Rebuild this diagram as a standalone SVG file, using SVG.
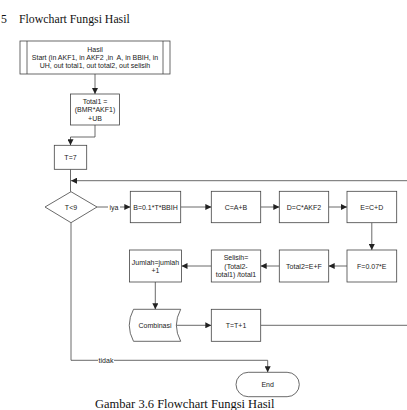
<svg xmlns="http://www.w3.org/2000/svg" width="407" height="410" viewBox="0 0 407 410">
<defs>
<marker id="ah" viewBox="0 0 10 10" refX="10" refY="5" markerWidth="6" markerHeight="6" markerUnits="userSpaceOnUse" orient="auto"><path d="M0,0 L10,5 L0,10 z" fill="#222"/></marker>
<style>
.n{fill:#fff;stroke:#444;stroke-width:0.8}
.t{font-family:"Liberation Sans",Arial,sans-serif;font-size:7px;fill:#222;text-anchor:middle;dominant-baseline:central}
.c{fill:none;stroke:#444;stroke-width:0.8}
.a{marker-end:url(#ah)}
.h{font-family:"Liberation Serif","Times New Roman",serif;font-size:12.5px;fill:#111}
</style>
</defs>
<rect width="407" height="410" fill="#fff"/>
<text class="h" x="1" y="23" style="font-size:11.8px">5</text>
<text class="h" x="19" y="23" style="font-size:11.8px">Flowchart Fungsi Hasil</text>
<g id="connectors">
<path class="c a" d="M95,74 V94"/>
<path class="c a" d="M95,125 V137 H70.5 V145.3"/>
<path class="c" d="M70.5,169.3 V191.7"/>
<path class="c a" d="M407,180.7 H71"/>
<path class="c" d="M97,207 H108"/>
<path class="c a" d="M120,207 H130.3"/>
<path class="c a" d="M180.7,207 H211.3"/>
<path class="c a" d="M260.7,207 H279.3"/>
<path class="c a" d="M328.7,207 H347"/>
<path class="c a" d="M371.8,222.7 V250"/>
<path class="c a" d="M347,266 H328.7"/>
<path class="c a" d="M279.3,266 H260.7"/>
<path class="c a" d="M211.3,266 H181.5"/>
<path class="c a" d="M155.3,282 V309.3"/>
<path class="c a" d="M176,325.3 H211.3"/>
<path class="c" d="M260.7,325.3 H407"/>
<path class="c" d="M71,222.7 V360.3 H98"/>
<path class="c a" d="M114,360.3 H267.7 V372.3"/>
<text class="t" x="114" y="207">iya</text>
<text class="t" x="106" y="360.3">tidak</text>
</g>
<g id="hasil">
<rect class="n" x="20" y="41" width="150" height="33"/>
<path class="c" d="M27,41 V74 M163,41 V74"/>
<text class="t" x="95" y="49.5">Hasil</text>
<text class="t" x="95" y="57.5" xml:space="preserve">Start (in AKF1, in AKF2 ,in  A, in BBIH, in</text>
<text class="t" x="95" y="65.5">UH, out total1, out total2, out selisih</text>
</g>
<g id="total1">
<rect class="n" x="70.5" y="94" width="49" height="31"/>
<text class="t" x="95" y="101">Total1 =</text>
<text class="t" x="95" y="109.5">(BMR*AKF1)</text>
<text class="t" x="95" y="118">+UB</text>
</g>
<g id="t7">
<rect class="n" x="54.3" y="145.3" width="32.4" height="24"/>
<text class="t" x="70.5" y="157.3">T=7</text>
</g>
<g id="dec">
<path class="n" d="M45,207 L71,191.7 L97,207 L71,222.7 Z"/>
<text class="t" x="71" y="207">T&lt;9</text>
</g>
<g id="b">
<rect class="n" x="130.3" y="191.3" width="50.4" height="31.4"/>
<text class="t" x="155.5" y="207">B=0.1*T*BBIH</text>
</g>
<g id="c">
<rect class="n" x="211.3" y="191.3" width="49.4" height="31.4"/>
<text class="t" x="236" y="207">C=A+B</text>
</g>
<g id="d">
<rect class="n" x="279.3" y="191.3" width="49.4" height="31.4"/>
<text class="t" x="304" y="207">D=C*AKF2</text>
</g>
<g id="e">
<rect class="n" x="347" y="191.3" width="49.7" height="31.4"/>
<text class="t" x="371.8" y="207">E=C+D</text>
</g>
<g id="f">
<rect class="n" x="347" y="250" width="49.7" height="32"/>
<text class="t" x="371.8" y="266">F=0.07*E</text>
</g>
<g id="total2">
<rect class="n" x="279.3" y="250" width="49.4" height="32"/>
<text class="t" x="304" y="266">Total2=E+F</text>
</g>
<g id="selisih">
<rect class="n" x="211.3" y="250" width="49.4" height="32"/>
<text class="t" x="236" y="257.5">Selisih=</text>
<text class="t" x="236" y="266">(Total2-</text>
<text class="t" x="236" y="274.5">total1) /total1</text>
</g>
<g id="jumlah">
<rect class="n" x="129.5" y="250" width="52" height="32"/>
<text class="t" x="155.5" y="262">Jumlah=jumlah</text>
<text class="t" x="155.5" y="270.5">+1</text>
</g>
<g id="combinasi">
<path class="n" d="M133.5,309.3 H180.7 Q172,325.3 180.7,341.3 H133.5 Q125,325.3 133.5,309.3 Z"/>
<text class="t" x="155" y="325.3">Combinasi</text>
</g>
<g id="tt1">
<rect class="n" x="211.3" y="309.3" width="49.4" height="32"/>
<text class="t" x="236" y="325.3">T=T+1</text>
</g>
<g id="end">
<rect class="n" x="236" y="372.3" width="63.3" height="24.4" rx="12.2"/>
<text class="t" x="267.7" y="384.5">End</text>
</g>
<text class="h" x="95" y="408">Gambar 3.6 Flowchart Fungsi Hasil</text>
</svg>
